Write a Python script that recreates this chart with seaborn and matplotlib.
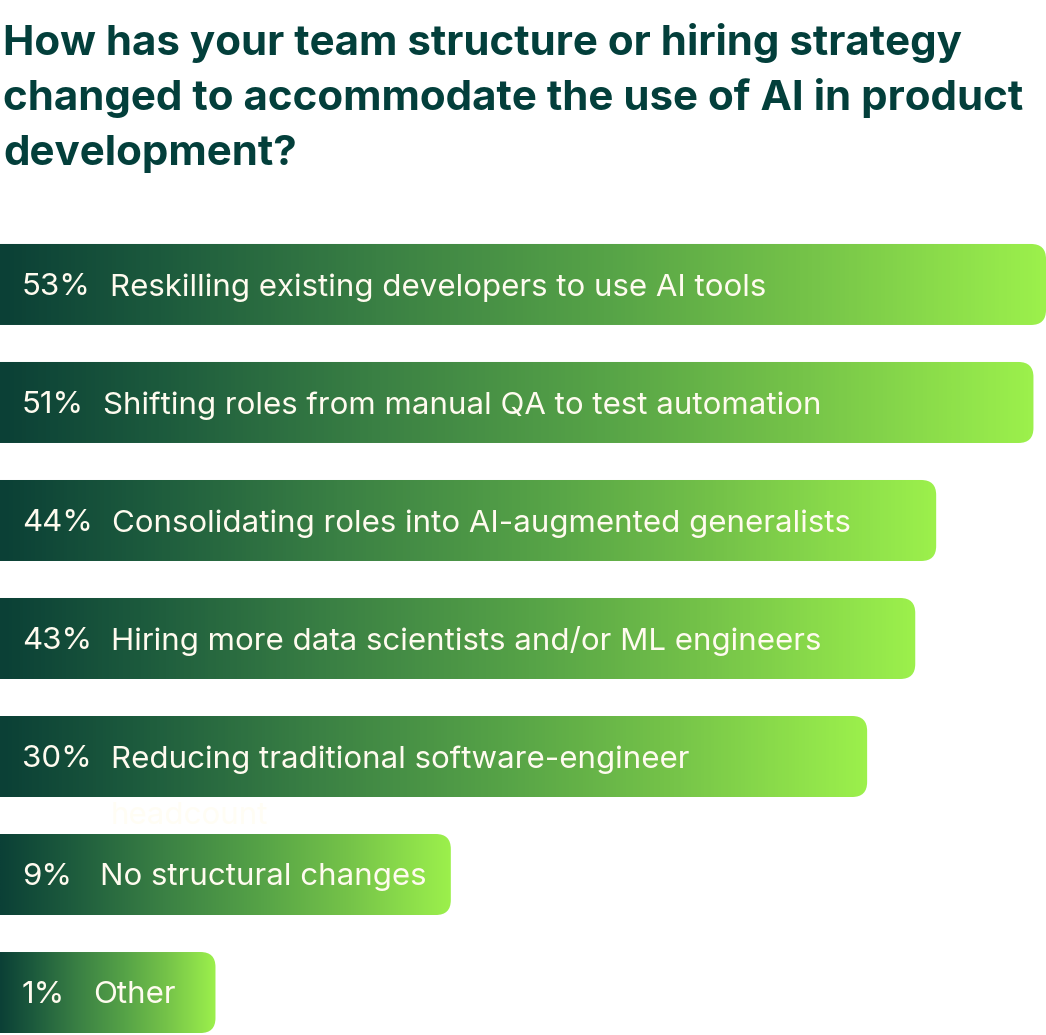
import numpy as np
import pandas as pd
import matplotlib.pyplot as plt
import seaborn as sns
from matplotlib.colors import LinearSegmentedColormap
from matplotlib.patches import FancyBboxPatch

###DATA###
title_lines = ['How has your team structure or hiring strategy',
               'changed to accommodate the use of AI in product',
               'development?']
answers = ['Reskilling existing developers to use AI tools',
           'Shifting roles from manual QA to test automation',
           'Consolidating roles into AI-augmented generalists',
           'Hiring more data scientists and/or ML engineers',
           'Reducing traditional software-engineer\nheadcount',
           'No structural changes',
           'Other']
pcts = [53, 51, 44, 43, 30, 9, 1]
#bar lengths as drawn in the graphic (share of full width, not proportional to pct)
bar_len = [100, 98.8, 89.5, 87.5, 82.9, 43.1, 20.6]

df = pd.DataFrame({'answer': answers, 'pct': pcts, 'bar_len': bar_len})

dark = '#033f3b'
cream = '#fffbef'

sns.set_theme(style='white')
plt.rcParams['font.family'] = ['Inter', 'DejaVu Sans']

W, H = 1046, 1035
fig = plt.figure(figsize=(W/100, H/100), dpi=100)
ax = fig.add_axes([0, 0, 1, 810/H])

sns.barplot(data=df, x='bar_len', y='answer', orient='h', width=81/118,
            color=dark, saturation=1, ax=ax)
ax.set_xlim(0, 100)
ax.set_ylim(6.36, -0.504)
ax.axis('off')

#gradient fill, clipped to a box with rounded right corners
cmap = LinearSegmentedColormap.from_list('grn', [(0, '#0b4036'), (0.15, '#1c5a3d'),
                                                 (0.36, '#3a8044'), (0.58, '#56a347'),
                                                 (0.78, '#76c449'), (1, '#9cf04c')])
grad = np.linspace(0, 1, 256).reshape(1, -1)
rx = 15/(W/100)
ry = 15/118
bars = list(ax.patches)
for bar, pct, ans in zip(bars, pcts, answers):
    x0, y0 = bar.get_x(), bar.get_y()
    w, h = bar.get_width(), bar.get_height()
    bar.set_visible(False)
    clip = FancyBboxPatch((x0 - 5, y0), w + 5, h,
                          boxstyle='round,pad=0,rounding_size=%f' % rx,
                          mutation_aspect=ry/rx, facecolor='none', edgecolor='none')
    ax.add_patch(clip)
    im = ax.imshow(grad, cmap=cmap, extent=[x0, x0 + w, y0 + h, y0],
                   aspect='auto', interpolation='bilinear')
    im.set_clip_path(clip)

    yc = y0 + h/2 + 0.025
    t = ax.text(2.1, yc, '%d%%' % pct, color=cream, fontsize=22.5, va='center')
    #single-digit values get a slightly wider gap, as in the original
    gap = 19 if pct >= 10 else 28
    lines = ans.split('\n')
    ax.annotate(lines[0], xy=(1, 0.5), xycoords=t, xytext=(gap, 0),
                textcoords='offset pixels', color=cream, fontsize=22.5, va='center')
    if len(lines) > 1:
        #overflow line falls outside the bar (white on white in the original)
        ax.annotate(lines[1], xy=(1, 0.5), xycoords=t, xytext=(gap, -57),
                    textcoords='offset pixels', color='#fffdf4', fontsize=22.5,
                    va='center', annotation_clip=False)

ax.set_xlim(0, 100)
ax.set_ylim(6.36, -0.504)

#title, one line at a time
for i, line in enumerate(title_lines):
    fig.text(3/W, 1 - (55 + 55*i)/H, line, color=dark, fontsize=30.3,
             fontweight='bold', va='baseline', ha='left')

fig.savefig('out.png', dpi=100, facecolor='white')
